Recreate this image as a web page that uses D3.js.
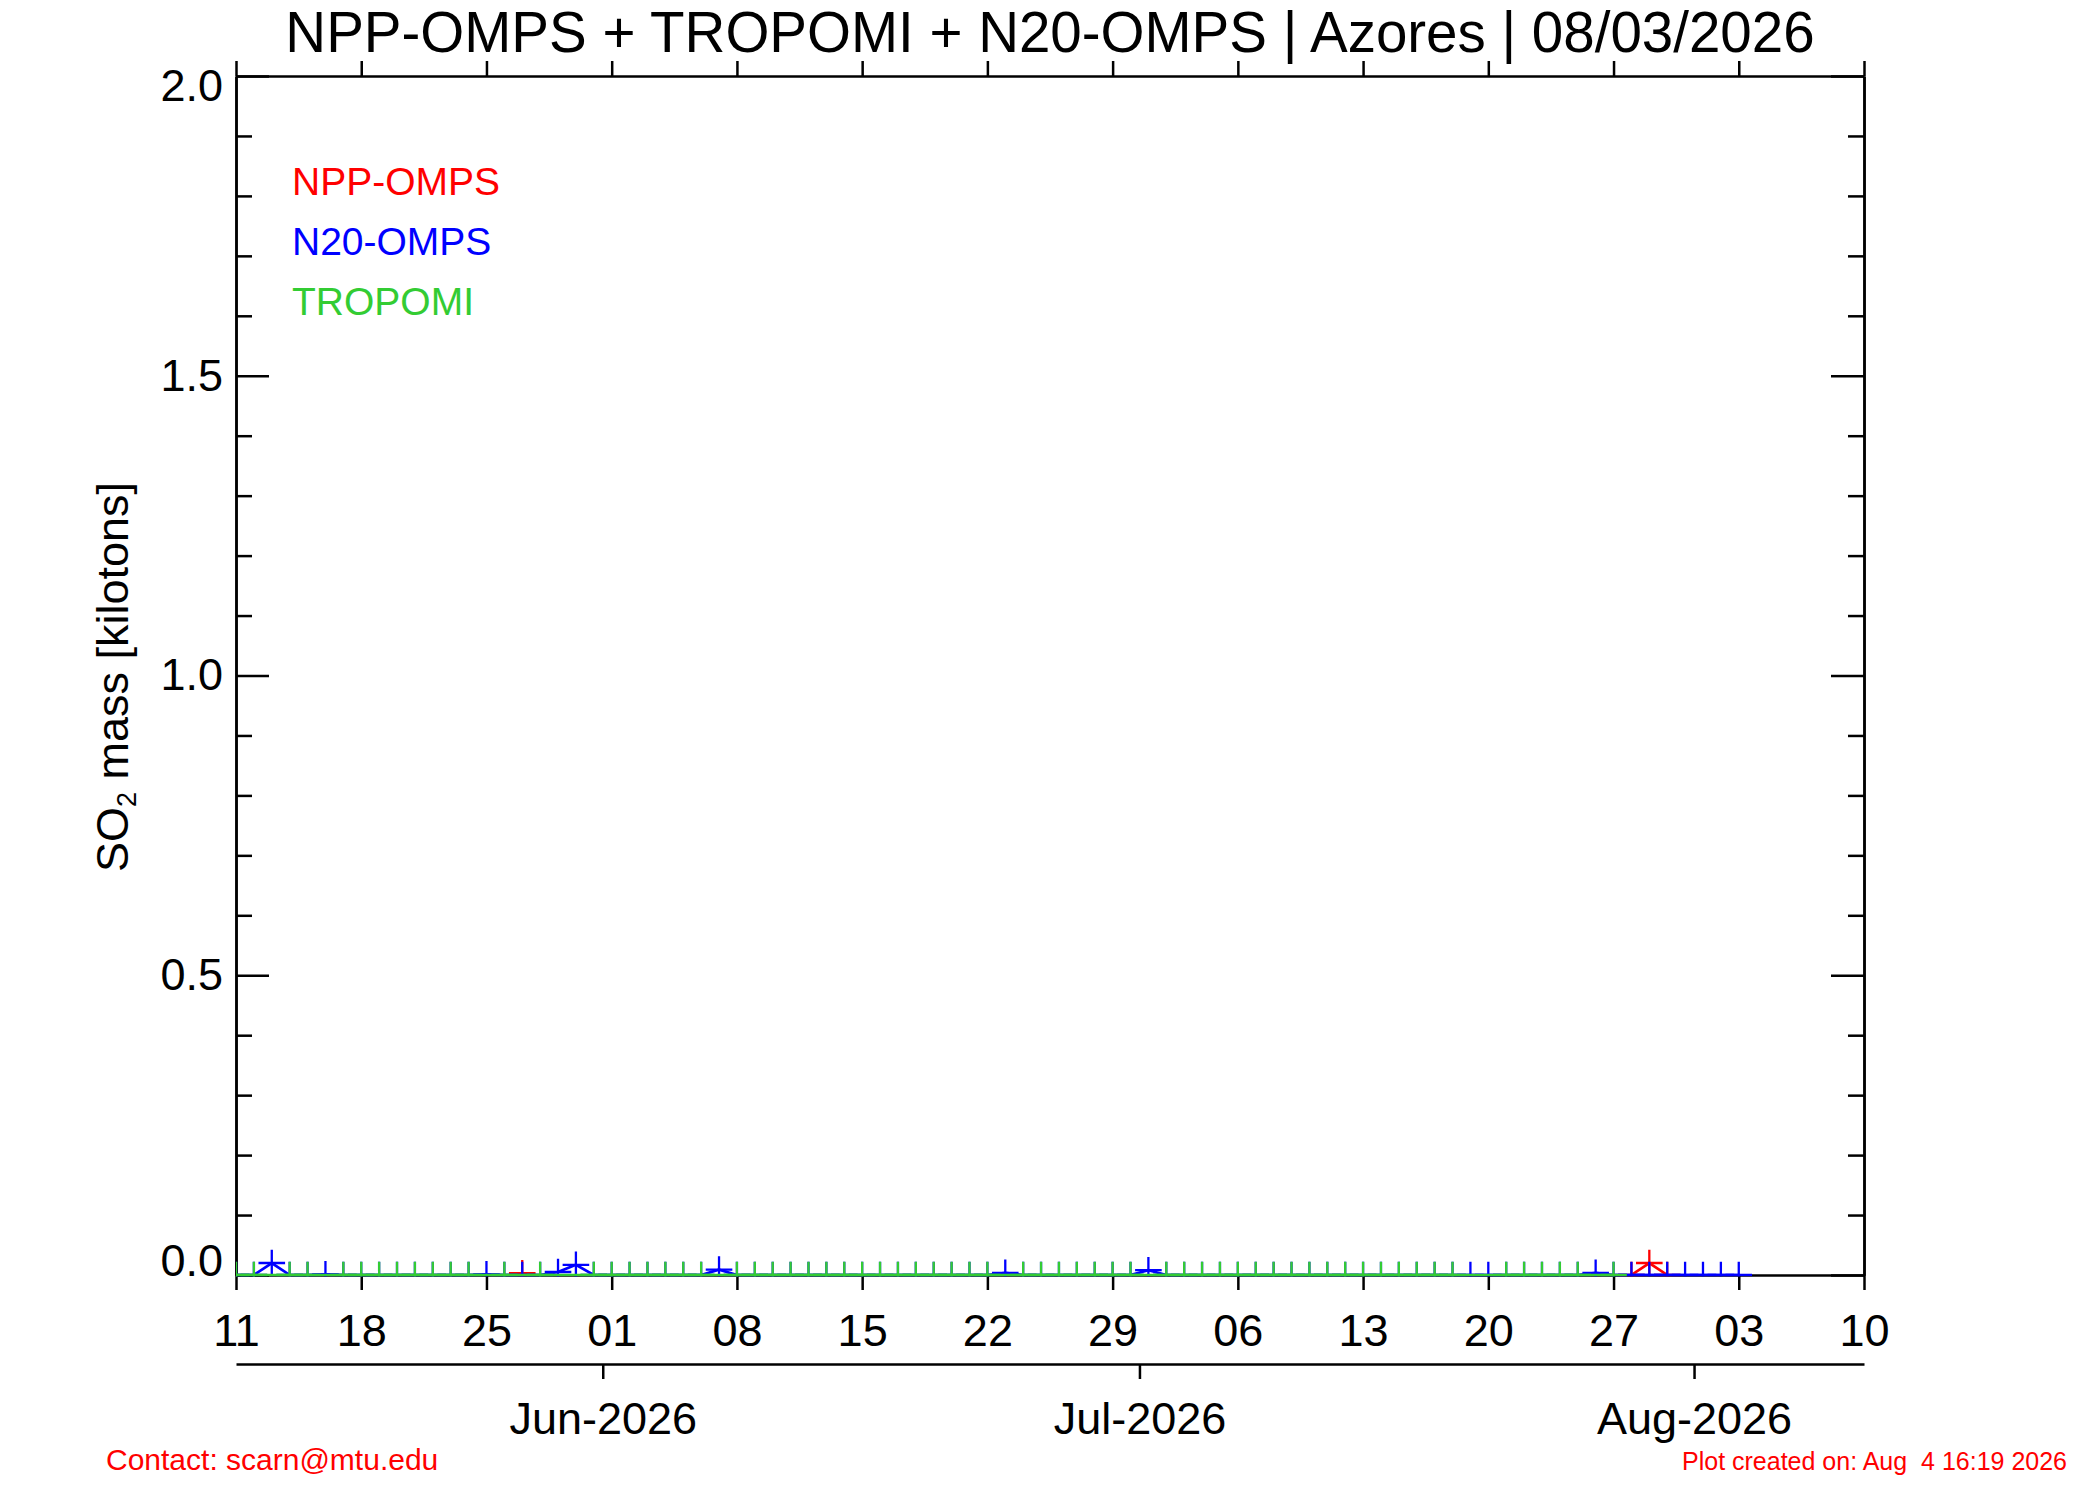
<!DOCTYPE html>
<html>
<head>
<meta charset="utf-8">
<script src="https://cdn.jsdelivr.net/npm/d3@7"></script>
<style>
    body { margin: 0; background: #fff; }
    svg text { font-family: "Liberation Sans", Arial, Helvetica, sans-serif; }
</style>
</head>
<body>
<svg id="chart" width="2100" height="1500"></svg>
<script>
// time window of the plot
var startDate = new Date(Date.UTC(2026, 4, 11));
var endDate   = new Date(Date.UTC(2026, 7, 10));

// NPP-OMPS: day offset from 11 May 2026 and SO2 mass [kt]
var nppDays = [16, 78, 79, 80];
var nppMass = [0.003, 0, 0.020, 0];

// N20-OMPS
var n20Days = [
     0,  1,  2,  3,  4,  5,  6,  7,  8,  9,
    10, 11, 12, 13, 14, 15, 16, 17, 18, 19,
    20, 21, 22, 23, 24, 25, 26, 27, 28, 29,
    30, 31, 32, 33, 34, 35, 36, 37, 38, 39,
    40, 41, 42, 43, 44, 45, 46, 47, 48, 49,
    50, 51, 52, 53, 54, 55, 56, 57, 58, 59,
    60, 61, 62, 63, 64, 65, 66, 67, 68, 69,
    70, 71, 72, 73, 74, 75, 76, 77, 78, 79,
    80, 81, 82, 83, 84
];
var n20Mass = [
    0, 0, 0.020, 0, 0, 0.001, 0, 0, 0, 0,
    0, 0, 0, 0, 0.001, 0, 0, 0, 0.005, 0.017,
    0, 0, 0, 0, 0, 0, 0, 0.009, 0, 0,
    0, 0, 0, 0, 0, 0, 0, 0, 0, 0,
    0, 0, 0, 0.0035, 0, 0, 0, 0, 0, 0,
    0, 0.008, 0, 0, 0, 0, 0, 0, 0, 0,
    0, 0, 0, 0, 0, 0, 0, 0, 0, 0,
    0, 0, 0, 0, 0, 0, 0.0035, 0, 0, 0,
    0, 0, 0, 0, 0
];

// TROPOMI
var tropomiDays = [
     0,  1,  3,  4,  6,  7,  8,  9, 10, 11,
    12, 13, 15, 17, 20, 21, 22, 23, 24, 25,
    26, 28, 29, 30, 31, 32, 33, 34, 35, 36,
    37, 38, 39, 40, 41, 42, 44, 45, 46, 47,
    48, 49, 50, 52, 53, 54, 55, 56, 57, 58,
    59, 60, 61, 62, 63, 64, 65, 66, 67, 68,
    71, 72, 73, 74, 75, 77
];
var tropomiMass = [
    0, 0, 0, 0, 0, 0, 0, 0, 0, 0,
    0, 0, 0, 0, 0, 0, 0, 0, 0, 0,
    0, 0, 0, 0, 0, 0, 0, 0, 0, 0,
    0, 0, 0, 0, 0, 0, 0, 0, 0, 0,
    0, 0, 0, 0, 0, 0, 0, 0, 0, 0,
    0, 0, 0, 0, 0, 0, 0, 0, 0, 0,
    0, 0, 0, 0, 0, 0
];

var yMajorTicks = [0, 0.5, 1.0, 1.5, 2.0];
var yMinorTicks = [0.1, 0.2, 0.3, 0.4, 0.6, 0.7, 0.8, 0.9, 1.1, 1.2, 1.3, 1.4, 1.6, 1.7, 1.8, 1.9];

var legendNames  = ['NPP-OMPS', 'N20-OMPS', 'TROPOMI'];
var legendColors = ['#ff0000', '#0000ff', '#33cc33'];

var titleText   = 'NPP-OMPS + TROPOMI + N20-OMPS | Azores | 08/03/2026';
var contactText = 'Contact: scarn@mtu.edu';
var createdText = 'Plot created on: Aug  4 16:19 2026';

// layout
var plot = { left: 236, right: 1864, top: 76, bottom: 1275 };
var monthAxisY = 1364;
var axisWidth = 2.5;
var markSize = 13.3;
var maxGapDays = 3;   // longer gaps break the line

var toSeries = (days, mass) => days.map((d, i) => ({
    date: d3.utcDay.offset(startDate, d),
    value: mass[i],
    gapBefore: i > 0 && d - days[i - 1] > maxGapDays
}));

// drawn in this order: red under blue under green
var series = [
    { color: legendColors[0], points: toSeries(nppDays, nppMass) },
    { color: legendColors[1], points: toSeries(n20Days, n20Mass) },
    { color: legendColors[2], points: toSeries(tropomiDays, tropomiMass) }
];

var svg = d3.select('#chart');

svg.append('rect')
    .attr('width', 2100)
    .attr('height', 1500)
    .attr('fill', '#fff')
;

var x = d3.scaleUtc()
    .domain([startDate, endDate])
    .range([plot.left, plot.right])
;

// month labels sit half a day before the first of the month
var xMonth = d3.scaleUtc()
    .domain([d3.utcHour.offset(startDate, 12), d3.utcHour.offset(endDate, 12)])
    .range([plot.left, plot.right])
;

var y = d3.scaleLinear()
    .domain([0, 2])
    .range([plot.bottom, plot.top])
;

function styleAxis(g, fontSize) {
    g.attr('font-family', null).attr('font-size', fontSize);
    g.select('.domain').attr('stroke-width', axisWidth);
    g.selectAll('.tick line').attr('stroke-width', axisWidth);
    g.selectAll('.tick text').attr('fill', '#000');
}

// clip for the data, a bit below zero so the zero line keeps its width
svg.append('clipPath')
    .attr('id', 'plot-clip')
    .append('rect')
    .attr('x', plot.left)
    .attr('y', plot.top)
    .attr('width', plot.right - plot.left)
    .attr('height', plot.bottom - plot.top + 1.5)
;

// Axes
var weekly = d3.utcMonday.every(1);

svg.append('g')
    .attr('transform', `translate(0, ${ plot.bottom })`)
    .call(d3.axisBottom(x).ticks(weekly).tickFormat(d3.utcFormat('%d')).tickSizeInner(15).tickSizeOuter(0).tickPadding(24))
    .call(g => styleAxis(g, 45))
;

svg.append('g')
    .attr('transform', `translate(0, ${ plot.top })`)
    .call(d3.axisTop(x).ticks(weekly).tickFormat('').tickSizeInner(15).tickSizeOuter(0))
    .call(g => styleAxis(g, 45))
;

svg.append('g')
    .attr('transform', `translate(0, ${ monthAxisY })`)
    .call(d3.axisBottom(xMonth).ticks(d3.utcMonth.every(1)).tickFormat(d3.utcFormat('%b-%Y')).tickSizeInner(15).tickSizeOuter(0).tickPadding(23))
    .call(g => styleAxis(g, 45))
;

svg.append('g')
    .attr('transform', `translate(${ plot.left }, 0)`)
    .call(d3.axisLeft(y).tickValues(yMinorTicks).tickFormat('').tickSizeInner(-16).tickSizeOuter(0))
    .call(g => styleAxis(g, 45))
;

var yLeft = svg.append('g')
    .attr('transform', `translate(${ plot.left }, 0)`)
    .call(d3.axisLeft(y).tickValues(yMajorTicks).tickFormat(d3.format('.1f')).tickSizeInner(-33).tickSizeOuter(0).tickPadding(13))
    .call(g => styleAxis(g, 45))
;

// the end labels sit inside the axis range
yLeft.selectAll('.tick text')
    .attr('dy', d => d === 2 ? '0.54em' : d === 0 ? '0em' : '0.32em')
;

svg.append('g')
    .attr('transform', `translate(${ plot.right }, 0)`)
    .call(d3.axisRight(y).tickValues(yMinorTicks).tickFormat('').tickSizeInner(-16).tickSizeOuter(0))
    .call(g => styleAxis(g, 45))
;

svg.append('g')
    .attr('transform', `translate(${ plot.right }, 0)`)
    .call(d3.axisRight(y).tickValues(yMajorTicks).tickFormat('').tickSizeInner(-33).tickSizeOuter(0))
    .call(g => styleAxis(g, 45))
;

// Data
var line = d3.line()
    .x(d => x(d.date))
    .y(d => y(d.value))
;

var dataLayer = svg.append('g')
    .attr('clip-path', 'url(#plot-clip)')
;

series.forEach(function (s) {
    var g = dataLayer.append('g');

    // split into runs at the long gaps
    var runs = [];
    s.points.forEach(p => {
        if (!runs.length || p.gapBefore) runs.push([]);
        runs[runs.length - 1].push(p);
    });

    g.selectAll('.run')
        .data(runs.filter(r => r.length > 1))
        .enter().append('path')
        .attr('class', 'run')
        .attr('fill', 'none')
        .attr('stroke', s.color)
        .attr('stroke-width', 2.7)
        .attr('d', line)
    ;

    g.selectAll('.mark')
        .data(s.points)
        .enter().append('path')
        .attr('class', 'mark')
        .attr('fill', 'none')
        .attr('stroke', s.color)
        .attr('stroke-width', 2.3)
        .attr('d', d => {
            var cx = x(d.date), cy = y(d.value);
            return `M${ cx - markSize },${ cy }H${ cx + markSize }M${ cx },${ cy - markSize }V${ cy + markSize }`;
        })
    ;
});

// Texts
svg.append('text')
    .attr('x', 1050)
    .attr('y', 52)
    .attr('text-anchor', 'middle')
    .attr('font-size', 56.5)
    .text(titleText)
;

svg.selectAll('.legend')
    .data(legendNames)
    .enter().append('text')
    .attr('class', 'legend')
    .attr('x', 292)
    .attr('y', (d, i) => 195 + i * 60)
    .attr('font-size', 39)
    .attr('fill', (d, i) => legendColors[i])
    .text(d => d)
;

var yTitle = svg.append('text')
    .attr('transform', 'translate(128, 677) rotate(-90)')
    .attr('text-anchor', 'middle')
    .attr('font-size', 45)
;
yTitle.append('tspan').text('SO');
yTitle.append('tspan').attr('font-size', 27).attr('dy', 8).text('2');
yTitle.append('tspan').attr('dy', -8).text(' mass [kilotons]');

svg.append('text')
    .attr('x', 106)
    .attr('y', 1470)
    .attr('font-size', 30)
    .attr('fill', '#ff0000')
    .text(contactText)
;

svg.append('text')
    .attr('x', 1682)
    .attr('y', 1470)
    .attr('font-size', 25)
    .attr('fill', '#ff0000')
    .style('white-space', 'pre')
    .text(createdText)
;
</script>
</body>
</html>
